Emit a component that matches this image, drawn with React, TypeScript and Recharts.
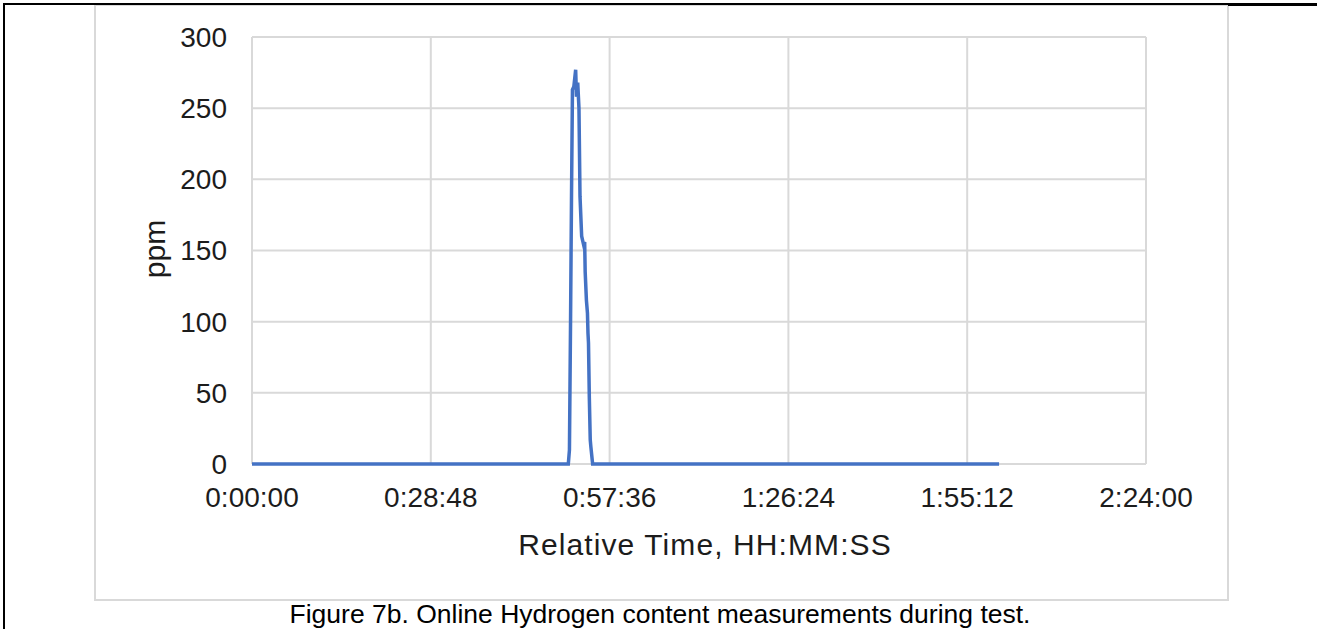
import { LineChart, Line, XAxis, YAxis, CartesianGrid } from "recharts";

// relative time in seconds, hydrogen in ppm
const timeSec = [
  0, 3057, 3068, 3078, 3088, 3097, 3110, 3128, 3136, 3148, 3160, 3170, 3186,
  3205, 3215, 3220, 3232, 3242, 3247, 3252, 3260, 3269, 3275, 3292, 7220,
];
const hydrogenPpm = [
  0, 0, 10, 95, 189, 263, 265, 277, 258, 268, 250, 188, 160, 154, 156, 135,
  115, 106, 92, 85, 47, 17, 12, 0, 0,
];

const xTicks = [0, 1728, 3456, 5184, 6912, 8640];
const yTicks = [0, 50, 100, 150, 200, 250, 300];

const data = timeSec.map((t, i) => ({ t, ppm: hydrogenPpm[i] }));

const font = '"Liberation Sans", Arial, sans-serif';
const textColor = "#1c1c1c";

function hms(sec: number) {
  const h = Math.floor(sec / 3600);
  const m = Math.floor((sec % 3600) / 60);
  const s = Math.round(sec % 60);
  return `${h}:${String(m).padStart(2, "0")}:${String(s).padStart(2, "0")}`;
}

export default function App() {
  return (
    <div
      style={{
        position: "absolute",
        left: 0,
        top: 0,
        width: 1317,
        height: 629,
        background: "#fff",
        overflow: "hidden",
        fontFamily: font,
      }}
    >
      {/* chart frame */}
      <div
        style={{
          position: "absolute",
          left: 94,
          top: 4,
          width: 1131,
          height: 593,
          border: "2px solid #D9D9D9",
        }}
      />
      {/* page/table lines */}
      <div style={{ position: "absolute", left: 3, top: 3, width: 1314, height: 2, background: "#000" }} />
      <div style={{ position: "absolute", left: 1228, top: 3, width: 89, height: 3, background: "#000" }} />
      <div style={{ position: "absolute", left: 3, top: 3, width: 2, height: 626, background: "#000" }} />

      <div style={{ position: "absolute", left: 0, top: 0 }}>
        <LineChart
          width={1317}
          height={629}
          data={data}
          margin={{ top: 37, right: 171, left: 192, bottom: 135 }}
        >
          <CartesianGrid stroke="#D9D9D9" strokeWidth={2} />
          <XAxis
            dataKey="t"
            type="number"
            domain={[0, 8640]}
            ticks={xTicks}
            tickFormatter={hms}
            height={30}
            tickSize={0}
            tickMargin={23}
            axisLine={false}
            tick={{ fill: textColor, fontSize: 28, fontFamily: font }}
            interval={0}
          />
          <YAxis
            type="number"
            domain={[0, 300]}
            ticks={yTicks}
            width={60}
            tickSize={0}
            tickMargin={25}
            axisLine={false}
            tick={{ fill: textColor, fontSize: 28, fontFamily: font }}
            interval={0}
          />
          <Line
            type="linear"
            dataKey="ppm"
            stroke="#4472C4"
            strokeWidth={3.5}
            dot={false}
            isAnimationActive={false}
          />
        </LineChart>
      </div>

      <svg
        width={1317}
        height={629}
        style={{ position: "absolute", left: 0, top: 0, pointerEvents: "none" }}
      >
        <text
          x={705}
          y={555}
          textAnchor="middle"
          fontSize={30}
          letterSpacing={1.1}
          fontFamily={font}
          fill={textColor}
        >
          Relative Time,  HH:MM:SS
        </text>
        <text
          x={165}
          y={249}
          textAnchor="middle"
          fontSize={30}
          fontFamily={font}
          fill={textColor}
          transform="rotate(-90 165 249)"
        >
          ppm
        </text>
        <text
          x={660}
          y={623}
          textAnchor="middle"
          fontSize={26.5}
          fontFamily={font}
          fill="#000"
        >
          Figure 7b. Online Hydrogen content measurements during test.
        </text>
      </svg>
    </div>
  );
}
